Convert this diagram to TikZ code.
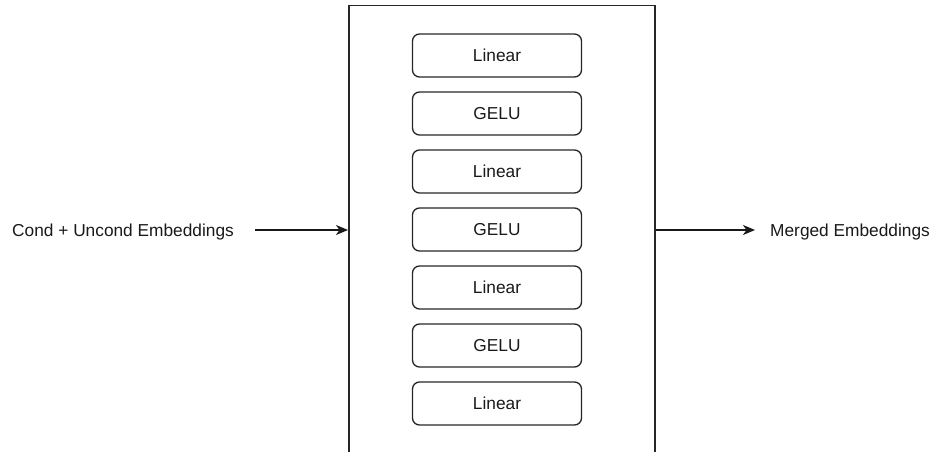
\documentclass[tikz,border=0pt]{standalone}
\usepackage{fontspec}
\setmainfont{Liberation Sans}
\usetikzlibrary{arrows.meta}
\begin{document}
\begin{tikzpicture}[x=1pt,y=-1pt,
  txt/.style={font=\fontsize{17.3pt}{20pt}\selectfont, text=black!90},
  layer/.style={txt, draw=black!85, line width=1.3pt, rounded corners=7pt,
    minimum width=169pt, minimum height=43pt, inner sep=0pt},
  lbl/.style={txt, inner sep=0pt},
  conn/.style={draw=black!90, line width=1.3pt, -{Stealth[length=12pt,width=10pt,inset=3.5pt]}}]
\useasboundingbox (0,0) rectangle (934,452);
\node[draw=black!85, line width=1.5pt, minimum width=306pt, minimum height=480pt,
  anchor=north west, inner sep=0pt] (outer) at (348,5) {};
\node[layer] (l1) at (497,55.5) {Linear};
\node[layer] (l2) at (497,113.5) {GELU};
\node[layer] (l3) at (497,171.5) {Linear};
\node[layer] (l4) at (497,229.5) {GELU};
\node[layer] (l5) at (497,287.5) {Linear};
\node[layer] (l6) at (497,345.5) {GELU};
\node[layer] (l7) at (497,403.5) {Linear};
\node[lbl, anchor=base west] (cin) at (12,236.2) {Cond + Uncond Embeddings};
\node[lbl, anchor=base west] (cout) at (770,236.2) {Merged Embeddings};
\coordinate (a1) at (255,230);
\coordinate (a2) at (755,230);
\draw[conn] (a1) -- (a1 -| outer.west);
\draw[conn] (a2 -| outer.east) -- (a2);
\end{tikzpicture}
\end{document}
